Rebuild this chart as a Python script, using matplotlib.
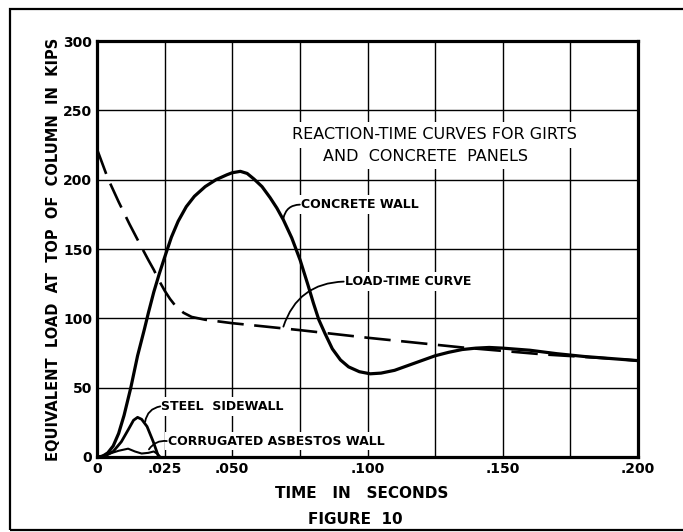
import matplotlib
matplotlib.use('Agg')
import matplotlib.pyplot as plt
from matplotlib.patches import Rectangle

plt.rcParams['font.family'] = ['DejaVu Sans']

# data (time in seconds, load in kips)
concrete_t = [0, 0.002, 0.004, 0.006, 0.008, 0.010, 0.0125, 0.015, 0.0175, 0.019,
              0.021, 0.023, 0.025, 0.0275, 0.030, 0.033, 0.036, 0.040, 0.044, 0.048,
              0.050, 0.053, 0.0555, 0.058, 0.061, 0.064, 0.0665, 0.0689, 0.072, 0.0751,
              0.078, 0.080, 0.082, 0.0843, 0.087, 0.090, 0.093, 0.097, 0.101, 0.105,
              0.110, 0.115, 0.120, 0.125, 0.130, 0.135, 0.140, 0.145, 0.150, 0.160,
              0.170, 0.180, 0.190, 0.200]
concrete_kips = [0, 0.5, 3, 8, 17, 30, 50, 73, 92, 104,
                 119, 132, 144, 158.5, 170, 180.5, 188, 195, 200, 203.5,
                 205, 206, 204.5, 200.5, 195, 187, 179.5, 171, 158, 142,
                 124, 111, 99, 89, 78, 70, 65, 61.5, 60, 60.5,
                 62.5, 66, 69.5, 73, 75.5, 77.5, 78.5, 79, 78.5, 77,
                 74.5, 72.5, 71, 69.5]

load_t = [0, 0.004, 0.008, 0.012, 0.016, 0.019, 0.021, 0.023, 0.025, 0.027,
          0.029, 0.032, 0.035, 0.040, 0.050, 0.0566, 0.075, 0.100, 0.125, 0.135,
          0.150, 0.165, 0.175, 0.190, 0.200]
load_kips = [222, 201, 184, 168, 153, 142, 135, 127, 120, 114,
             109, 104, 101, 99, 96.5, 95.2, 91.5, 86, 81, 79,
             76.5, 74, 72.8, 71, 69.5]

steel_t = [0, 0.003, 0.006, 0.009, 0.0115, 0.0135, 0.015, 0.0165, 0.0185, 0.0208, 0.0228]
steel_kips = [0, 0.7, 4, 11, 19.5, 26.5, 28.6, 27.2, 22, 11, 0]

asbestos_t = [0, 0.004, 0.008, 0.0115, 0.014, 0.0165, 0.019, 0.021, 0.0225, 0.0235]
asbestos_kips = [0, 2, 4.5, 6, 4, 2.5, 3, 4, 2, 0]

x_ticks = [0, 0.025, 0.050, 0.075, 0.100, 0.125, 0.150, 0.175, 0.200]
x_labels = ['0', '.025', '.050', '', '.100', '', '.150', '', '.200']
y_ticks = [0, 50, 100, 150, 200, 250, 300]
y_labels = ['0', '50', '100', '150', '200', '250', '300']

fig = plt.figure(figsize=(6.83, 5.32), dpi=100)
ax = fig.add_axes([97 / 683, 1 - 457 / 532, 541 / 683, 416 / 532])

ax.set_xlim(0, 0.2)
ax.set_ylim(0, 300)
ax.set_xticks(x_ticks)
ax.set_xticklabels(x_labels)
ax.set_yticks(y_ticks)
ax.set_yticklabels(y_labels)
ax.tick_params(length=0, labelsize=10, pad=3.5)
for lab in ax.get_xticklabels() + ax.get_yticklabels():
    lab.set_fontweight('bold')
ax.grid(True, color='black', linewidth=1.0)
ax.set_axisbelow(True)
for s in ax.spines.values():
    s.set_linewidth(2.3)

# curves
ax.plot(concrete_t, concrete_kips, color='black', lw=2.3, solid_capstyle='round',
        solid_joinstyle='round', zorder=3)
ax.plot(load_t, load_kips, color='black', lw=1.9, dashes=(10, 4), zorder=3)
ax.plot(steel_t, steel_kips, color='black', lw=2.0, solid_joinstyle='round', zorder=3)
ax.plot(asbestos_t, asbestos_kips, color='black', lw=1.5, solid_joinstyle='round',
        zorder=3)

# title block
ax.text(0.1248, 232.3, 'REACTION-TIME CURVES FOR GIRTS', ha='center', va='center',
        fontsize=11.5, zorder=2.5, bbox=dict(facecolor='white', edgecolor='none', pad=4))
ax.text(0.1215, 217, 'AND  CONCRETE  PANELS', ha='center', va='center',
        fontsize=11.5, zorder=2.5, bbox=dict(facecolor='white', edgecolor='none', pad=4))

# curve labels with leaders
labels = [
    ('CONCRETE WALL', (0.0689, 172), (0.0750, 182), 0.4),
    ('LOAD-TIME CURVE', (0.0689, 94), (0.0912, 126.5), 0.35),
    ('STEEL  SIDEWALL', (0.0178, 25.5), (0.0234, 36.5), 0.35),
    ('CORRUGATED ASBESTOS WALL', (0.0192, 5.5), (0.0258, 11.5), 0.3),
]
for txt, pt, start, rad in labels:
    ax.text(start[0] + 0.0004, start[1], txt, ha='left', va='center', fontsize=9,
            fontweight='bold', zorder=2.5,
            bbox=dict(facecolor='white', edgecolor='none', pad=2))
    ax.annotate('', xy=pt, xytext=start, zorder=3,
                arrowprops=dict(arrowstyle='-', color='black', lw=1.3, shrinkA=0,
                                shrinkB=0, connectionstyle='arc3,rad=%s' % rad))

ax.set_ylabel('EQUIVALENT  LOAD  AT  TOP  OF  COLUMN  IN  KIPS', fontsize=10.5,
              fontweight='bold')
ax.yaxis.set_label_coords(-0.066, 0.5)
ax.set_xlabel('TIME   IN   SECONDS', fontsize=11, fontweight='bold')
ax.xaxis.set_label_coords(0.49, -0.07)
fig.text(355 / 683, 1 - 519 / 532, 'FIGURE  10', ha='center', va='center',
         fontsize=11, fontweight='bold')

# outer frame
fig.add_artist(Rectangle((10 / 683, 1 - 530 / 532), 680 / 683, 521 / 532,
                         transform=fig.transFigure, fill=False,
                         edgecolor='black', linewidth=1.6))

fig.savefig('out.png', dpi=100)
